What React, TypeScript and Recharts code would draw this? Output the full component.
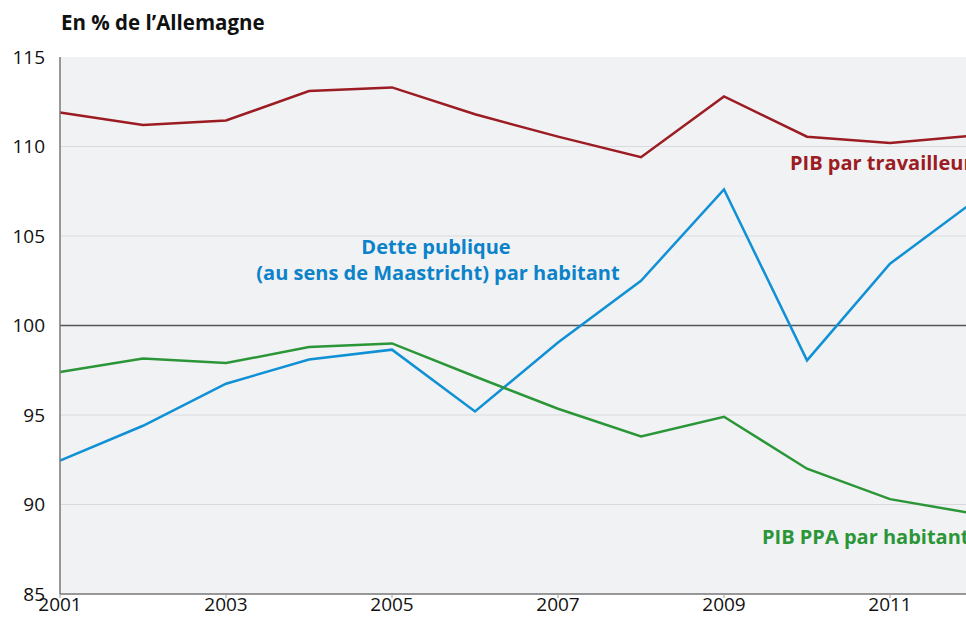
import React from "react";
import { LineChart, Line, XAxis, YAxis, CartesianGrid, ReferenceLine, Customized } from "recharts";

const years = [2001, 2002, 2003, 2004, 2005, 2006, 2007, 2008, 2009, 2010, 2011, 2012];
const pibTravailleur = [111.9, 111.2, 111.45, 113.1, 113.3, 111.8, 110.55, 109.4, 112.8, 110.55, 110.2, 110.6];
const dettePublique = [92.45, 94.4, 96.75, 98.1, 98.65, 95.2, 99.05, 102.5, 107.6, 98.05, 103.45, 106.9];
const pibPPA = [97.4, 98.15, 97.9, 98.8, 99.0, 97.15, 95.35, 93.8, 94.9, 92.0, 90.3, 89.5];
const xTicks = [2001, 2003, 2005, 2007, 2009, 2011];
const yTicks = [85, 90, 95, 100, 105, 110, 115];
const title = "En % de l’Allemagne";

const data = years.map((y, i) => ({
  year: y,
  trav: pibTravailleur[i],
  dette: dettePublique[i],
  ppa: pibPPA[i],
}));

const FONT = "'Open Sans', Lato, sans-serif";
const RED = "#9b1c23";
const BLUE = "#1090d5";
const BLUE_TXT = "#0b82c9";
const GREEN = "#2b9638";

const Labels = () => (
  <g fontFamily={FONT} fontWeight="bold" fontSize={20}>
    <text x={790} y={170} fill={RED}>PIB par travailleur</text>
    <text x={436} y={254} fill={BLUE_TXT} textAnchor="middle">Dette publique</text>
    <text x={438} y={280} fill={BLUE_TXT} textAnchor="middle">(au sens de Maastricht) par habitant</text>
    <text x={762} y={544} fill={GREEN}>PIB PPA par habitant</text>
  </g>
);

export default function App() {
  return (
    <div style={{ position: "absolute", left: 0, top: 0, width: 966, height: 618, overflow: "hidden", background: "#fff" }}>
      <div style={{ position: "absolute", left: 61, top: 8, fontFamily: FONT, fontWeight: "bold", fontSize: 20.5, color: "#111", lineHeight: "28px" }}>
        {title}
      </div>
      <LineChart width={980} height={618} data={data} margin={{ top: 57, right: 7, left: 0, bottom: 0 }}>
        <CartesianGrid vertical={false} horizontalValues={[90, 95, 105, 110]} stroke="#d9dadd" fill="#f1f2f4" />
        <XAxis
          dataKey="year"
          type="number"
          domain={[2001, 2012]}
          ticks={xTicks}
          height={24}
          axisLine={{ stroke: "#777", strokeWidth: 1.5 }}
          tickLine={{ stroke: "#999" }}
          tickSize={4}
          tickMargin={0}
          tick={{ fill: "#111", fontSize: 19, fontFamily: FONT }}
          interval={0}
        />
        <YAxis
          type="number"
          domain={[85, 115]}
          ticks={yTicks}
          width={60}
          axisLine={{ stroke: "#777", strokeWidth: 1.5 }}
          tickLine={false}
          tickSize={0}
          tickMargin={15}
          tick={{ fill: "#111", fontSize: 19, fontFamily: FONT }}
          interval={0}
        />
        <ReferenceLine y={100} stroke="#555" strokeWidth={1.5} />
        <Line dataKey="trav" stroke={RED} strokeWidth={2.5} dot={false} isAnimationActive={false} />
        <Line dataKey="dette" stroke={BLUE} strokeWidth={2.5} dot={false} isAnimationActive={false} />
        <Line dataKey="ppa" stroke={GREEN} strokeWidth={2.5} dot={false} isAnimationActive={false} />
        <Customized component={Labels} />
      </LineChart>
    </div>
  );
}
